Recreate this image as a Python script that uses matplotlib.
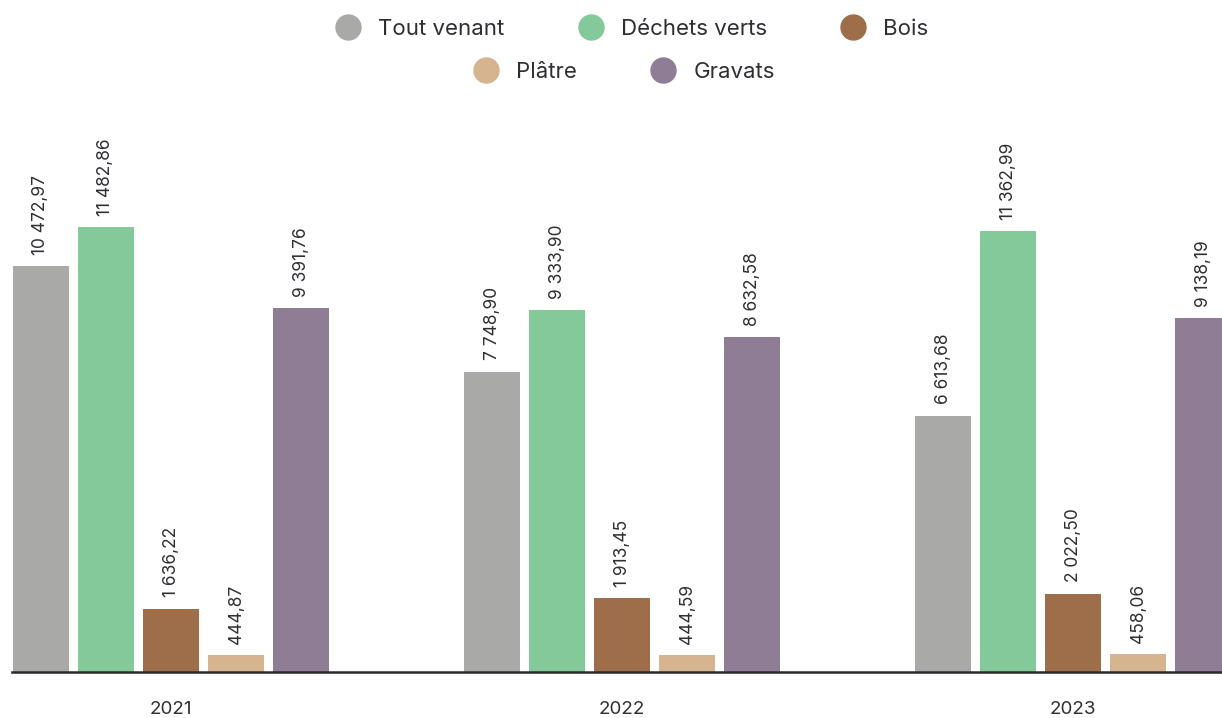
import numpy as np
import matplotlib.pyplot as plt
from matplotlib.lines import Line2D

plt.rcParams['font.family'] = ['Inter', 'DejaVu Sans']

# Data
years = ['2021', '2022', '2023']
series_names = ['Tout venant', 'Déchets verts', 'Bois', 'Plâtre', 'Gravats']
tout_venant = [10472.97, 7748.90, 6613.68]
dechets_verts = [11482.86, 9333.90, 11362.99]
bois = [1636.22, 1913.45, 2022.50]
platre = [444.87, 444.59, 458.06]
gravats = [9391.76, 8632.58, 9138.19]
colors = ['#a9a9a7', '#83c999', '#9e6e4a', '#d5b48f', '#8e7d94']

all_series = [tout_venant, dechets_verts, bois, platre, gravats]


def fr_format(v):
    s = f"{v:,.2f}"
    return s.replace(',', ' ').replace('.', ',')


fig = plt.figure(figsize=(12.22, 7.18), dpi=100)
ax = fig.add_axes([12 / 1222, 46 / 718, 1210 / 1222, 572 / 718])

x = np.arange(len(years))
step = 65 / 451
width = 56 / 451
text_color = '#2e2e33'

for i, (vals, col) in enumerate(zip(all_series, colors)):
    pos = x + (i - 2) * step
    ax.bar(pos, vals, width=width, color=col, zorder=2)
    for px, v in zip(pos, vals):
        ax.annotate(fr_format(v), (px, v), xytext=(0, 8), textcoords='offset points',
                    rotation=90, ha='center', va='bottom', fontsize=12.5,
                    color=text_color)

ax.set_xlim(-0.3525, 2.330)
ax.set_ylim(0, 14755)
for s in ['top', 'right', 'left']:
    ax.spines[s].set_visible(False)
ax.spines['bottom'].set_color('#2a2a2e')
ax.spines['bottom'].set_linewidth(1.8)
ax.set_yticks([])
ax.set_xticks(x)
ax.set_xticklabels(years, fontsize=13.5, color=text_color)
ax.tick_params(axis='x', length=0, pad=21)

handles = [Line2D([], [], marker='o', linestyle='none', markersize=18,
                  markerfacecolor=c, markeredgecolor=c) for c in colors]

leg1 = fig.legend(handles[:3], series_names[:3], loc='center', bbox_to_anchor=(627 / 1222, 1 - 29 / 718),
                  ncol=3, frameon=False, fontsize=16, columnspacing=2.9, handletextpad=0.35,
                  labelcolor=text_color)
leg2 = fig.legend(handles[3:], series_names[3:], loc='center', bbox_to_anchor=(619 / 1222, 1 - 72 / 718),
                  ncol=2, frameon=False, fontsize=16, columnspacing=2.9, handletextpad=0.35,
                  labelcolor=text_color)

fig.savefig('out.png', dpi=100)
